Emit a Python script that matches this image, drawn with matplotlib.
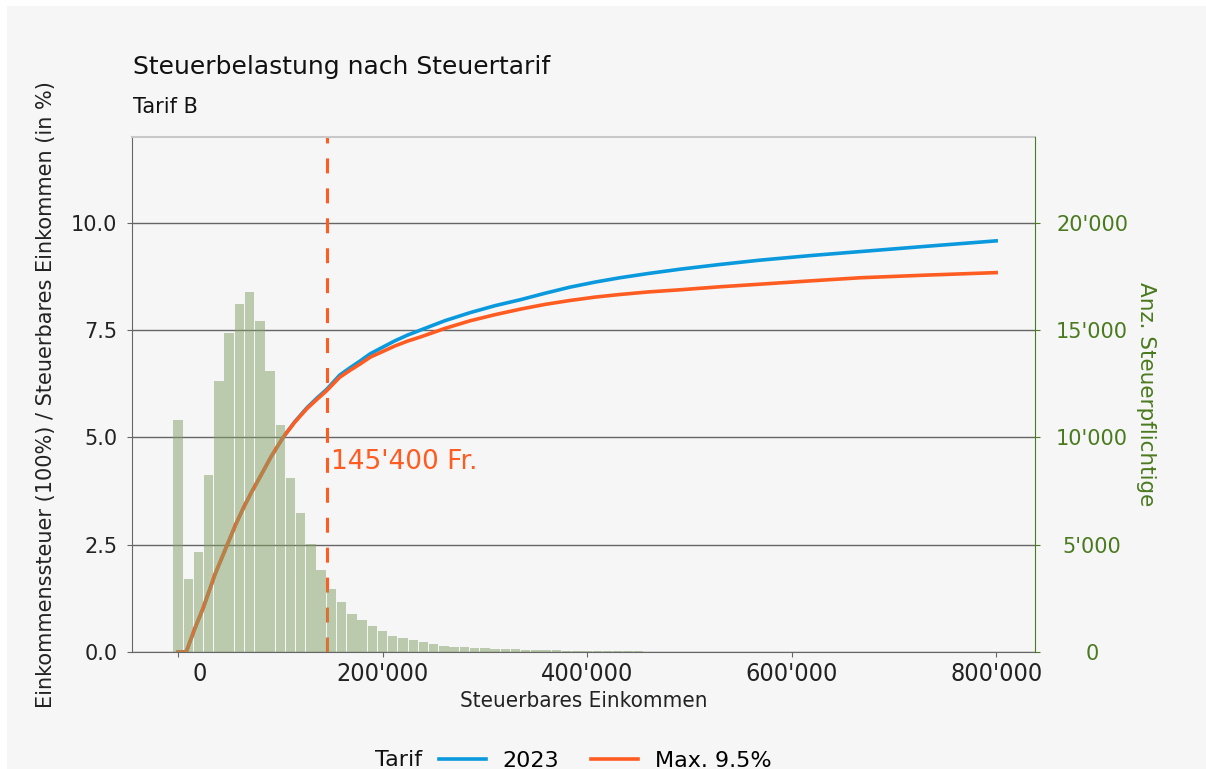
import numpy as np
import matplotlib
matplotlib.use("Agg")
import matplotlib.pyplot as plt
import matplotlib.transforms as mtransforms
from matplotlib.patches import Rectangle
from matplotlib.ticker import FuncFormatter

# Steuerbelastung in % des steuerbaren Einkommens
einkommen = [0, 8000, 16000, 25000, 36000, 48000, 56000, 64000, 72000, 80000, 91000, 103000,
             114000, 126000, 136000, 145400, 158000, 168000, 178000, 188000, 200000, 212000,
             224000, 237000, 261000, 286000, 310000, 335000, 359000, 383000, 408000, 432000,
             460000, 491000, 530000, 569000, 620000, 667000, 730000, 800000]
tarif_2023 = [0, 0, 0.52, 1.05, 1.80, 2.49, 2.95, 3.36, 3.73, 4.07, 4.55, 5.01,
              5.36, 5.69, 5.92, 6.12, 6.45, 6.62, 6.78, 6.95, 7.10, 7.25,
              7.38, 7.50, 7.72, 7.91, 8.07, 8.21, 8.36, 8.50, 8.62, 8.72,
              8.82, 8.92, 9.03, 9.13, 9.24, 9.33, 9.45, 9.58]
tarif_max = [0, 0, 0.52, 1.05, 1.80, 2.49, 2.95, 3.36, 3.73, 4.07, 4.55, 5.01,
             5.35, 5.67, 5.89, 6.09, 6.40, 6.56, 6.71, 6.87, 7.00, 7.13,
             7.24, 7.34, 7.54, 7.72, 7.86, 7.99, 8.10, 8.19, 8.27, 8.33,
             8.39, 8.44, 8.51, 8.57, 8.65, 8.72, 8.78, 8.84]

# Histogramm: Anzahl Steuerpflichtige pro 10'000 Fr.
bin_breite = 10000
anzahl = [10800, 3380, 4650, 8260, 12640, 14850, 16220, 16760, 15440, 13100,
          10570, 8120, 6480, 5050, 3810, 2940, 2310, 1750, 1470, 1190,
          960, 760, 670, 570, 470, 370, 290, 250, 250, 200,
          170, 140, 120, 120, 110, 80, 80, 80, 60, 60,
          60, 50, 50, 30, 30, 30, 20, 20, 20, 10]
bin_mitte = np.arange(len(anzahl)) * bin_breite

grenze = 145400
x_ticks = [0, 200000, 400000, 600000, 800000]
y_ticks = [0, 2.5, 5, 7.5, 10]
y2_ticks = [0, 5000, 10000, 15000, 20000]

blau = '#0b99dd'
orange = '#ff5c22'
gruen = '#4a7a1f'
bg = '#f6f6f6'

def tausender(v, pos=None):
    return f"{v:,.0f}".replace(",", "'")

fig = plt.figure(figsize=(12.06, 7.69), dpi=100, facecolor='white')
fig.add_artist(Rectangle((7 / 1206, 0), 1, 1 - 6 / 769, transform=fig.transFigure,
                         facecolor=bg, edgecolor='none', zorder=-10))

ax = fig.add_axes([132 / 1206, 1 - 652 / 769, (1035 - 132) / 1206, (652 - 137) / 769])
ax.set_facecolor(bg)

l1, = ax.plot(einkommen, tarif_2023, color=blau, lw=2.6, label='2023')
l2, = ax.plot(einkommen, tarif_max, color=orange, lw=2.6, label='Max. 9.5%')
ax.axvline(grenze, color=orange, lw=2.2, dashes=(4.9, 4.9))
ax.text(grenze + 4000, 4.42, "145'400 Fr.", color=orange, fontsize=19, va='center', ha='left')

ax.set_xlim(-45000, 838000)
ax.set_ylim(0, 12)
ax.set_xticks(x_ticks)
ax.xaxis.set_major_formatter(FuncFormatter(tausender))
ax.set_yticks(y_ticks)
ax.set_yticklabels([f"{v:.1f}" for v in y_ticks])
ax.grid(axis='y', color='#666666', lw=1)
ax.set_axisbelow(True)

ax.tick_params(axis='y', length=3.6, color='#666666', labelsize=15, labelcolor='#222222', pad=7)
ax.tick_params(axis='x', length=3.6, color='#666666', labelsize=18, labelcolor='#222222', pad=3.5)
for lab in ax.get_xticklabels():
    lab.set_fontstretch('condensed')
ax.get_xticklabels()[0].set_transform(ax.get_xticklabels()[0].get_transform()
                                      + mtransforms.ScaledTranslation(0.22, 0, fig.dpi_scale_trans))

ax.spines['top'].set_color('#c8c8c8')
ax.spines['top'].set_linewidth(1.5)
ax.spines['right'].set_visible(False)
ax.spines['left'].set_color('#666666')
ax.spines['bottom'].set_color('#666666')

ax.set_xlabel('Steuerbares Einkommen', fontsize=16, color='#222222', fontstretch='condensed')
ax.xaxis.set_label_coords(0.5, -0.075)
ax.set_ylabel('Einkommenssteuer (100%) / Steuerbares Einkommen (in %)', fontsize=15, color='#222222')
ax.yaxis.set_label_coords(-0.084, 0.5)

ax2 = ax.twinx()
ax2.bar(bin_mitte, anzahl, width=9200, color='#82a064', alpha=0.5, edgecolor='none')
ax2.set_ylim(0, 24000)
ax2.set_yticks(y2_ticks)
ax2.yaxis.set_major_formatter(FuncFormatter(tausender))
ax2.tick_params(axis='y', length=3.6, color=gruen, labelcolor=gruen, labelsize=15, pad=37.5)
plt.setp(ax2.get_yticklabels(), ha='center')
for s in ['top', 'left', 'bottom']:
    ax2.spines[s].set_visible(False)
ax2.spines['right'].set_color(gruen)
ax2.set_ylabel('Anz. Steuerpflichtige', fontsize=15.5, color=gruen, rotation=270, va='bottom')
ax2.yaxis.set_label_coords((1136 - 132) / 903, 0.5)

fig.text(133 / 1206, 1 - 74 / 769, 'Steuerbelastung nach Steuertarif', fontsize=18, color='#111111')
fig.text(133 / 1206, 1 - 113 / 769, 'Tarif B', fontsize=15, color='#111111')

fig.text(375 / 1206, 1 - 766.5 / 769, 'Tarif', fontsize=16, color='#111111', va='baseline')
fig.legend(handles=[l1, l2], loc='center left', bbox_to_anchor=(439 / 1206, 1 - 761 / 769),
           ncol=2, frameon=False, fontsize=16, borderpad=0, borderaxespad=0,
           handlelength=2.1, handletextpad=0.75, columnspacing=1.45)

fig.savefig('out.png', dpi=100, facecolor='white')
